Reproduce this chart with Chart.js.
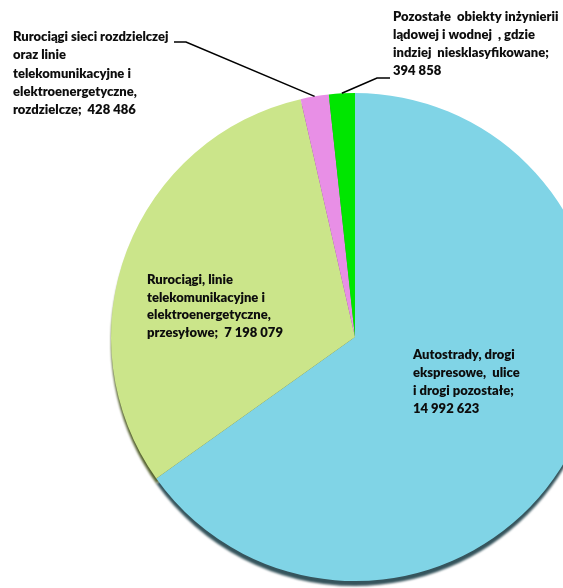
<!DOCTYPE html>
<html>
<head>
<meta charset="utf-8">
<script src="https://cdn.jsdelivr.net/npm/chart.js@4.4.1/dist/chart.umd.min.js"></script>
<style>
  html, body { margin: 0; padding: 0; background: #fff; overflow: hidden; }
  #wrap { width: 563px; height: 588px; overflow: hidden; position: relative; }
  canvas { position: absolute; left: 0; top: 0; }
</style>
</head>
<body>
<div id="wrap"><canvas id="pie" width="620" height="600"></canvas></div>
<script>
// data
const categories = [
    "Autostrady, drogi ekspresowe, ulice i drogi pozostałe",
    "Rurociągi, linie telekomunikacyjne i elektroenergetyczne, przesyłowe",
    "Rurociągi sieci rozdzielczej oraz linie telekomunikacyjne i elektroenergetyczne, rozdzielcze",
    "Pozostałe obiekty inżynierii lądowej i wodnej , gdzie indziej niesklasyfikowane"
];
const values = [14992623, 7198079, 428486, 394858];
const valueLabels = ["14 992 623", "7 198 079", "428 486", "394 858"];

// how each label is broken into lines (last line gets the value appended)
const labelLines = [
    ["Autostrady, drogi", "ekspresowe,  ulice", "i drogi pozostałe;", ""],
    ["Rurociągi, linie", "telekomunikacyjne i", "elektroenergetyczne,", "przesyłowe;  "],
    ["Rurociągi sieci rozdzielczej", "oraz linie", "telekomunikacyjne i", "elektroenergetyczne,", "rozdzielcze;  "],
    ["Pozostałe  obiekty inżynierii", "lądowej i wodnej  , gdzie", "indziej  niesklasyfikowane;", ""]
];

const colors = ["#80d4e6", "#cbe58a", "#e88fe6", "#00e600"];
const rimColors = ["#35545c", "#56632f", "#633a62", "#086008"];

// where the text blocks sit (first line centre) and leader elbows
const labelPos = [
    { x: 413, y: 355, lh: 18 },
    { x: 147, y: 280, lh: 17.5 },
    { x: 13, y: 37, lh: 18.2, leader: [[174, 42], [186, 42]] },
    { x: 393, y: 17, lh: 18, leader: [[390, 78], [377, 78]] }
];

const rimPlugin = {
    id: "rim",
    beforeDatasetsDraw(chart) {
        const ctx = chart.ctx;
        const meta = chart.getDatasetMeta(0);
        ctx.save();
        ctx.filter = "blur(1px)";
        meta.data.forEach(function(arc, i) {
            ctx.beginPath();
            ctx.moveTo(arc.x, arc.y + 5);
            ctx.arc(arc.x, arc.y + 5, arc.outerRadius, arc.startAngle, arc.endAngle);
            ctx.closePath();
            ctx.fillStyle = rimColors[i];
            ctx.fill();
        });
        ctx.restore();
    }
};

const labelPlugin = {
    id: "sliceLabels",
    afterDatasetsDraw(chart) {
        const ctx = chart.ctx;
        const meta = chart.getDatasetMeta(0);
        ctx.save();
        ctx.fillStyle = "#0d0d0d";
        ctx.strokeStyle = "#000";
        ctx.lineWidth = 1.6;
        ctx.font = "800 13px Lato";
        ctx.textBaseline = "middle";
        ctx.textAlign = "left";
        labelLines.forEach(function(lines, i) {
            const p = labelPos[i];
            lines.forEach(function(line, j) {
                let text = line;
                if (j === lines.length - 1) text = line + valueLabels[i];
                ctx.fillText(text, p.x, p.y + j * p.lh);
            });
            if (p.leader) {
                const arc = meta.data[i];
                const mid = (arc.startAngle + arc.endAngle) / 2;
                const ex = arc.x + Math.cos(mid) * arc.outerRadius;
                const ey = arc.y + Math.sin(mid) * arc.outerRadius;
                ctx.beginPath();
                ctx.moveTo(p.leader[0][0], p.leader[0][1]);
                ctx.lineTo(p.leader[1][0], p.leader[1][1]);
                ctx.lineTo(ex, ey);
                ctx.stroke();
            }
        });
        ctx.restore();
    }
};

new Chart(document.getElementById("pie").getContext("2d"), {
    type: "pie",
    data: {
        labels: categories,
        datasets: [{
            data: values,
            backgroundColor: colors,
            borderWidth: 0
        }]
    },
    options: {
        responsive: false,
        animation: false,
        layout: { padding: { left: 111, top: 93, right: 21, bottom: 19 } },
        plugins: {
            legend: { display: false },
            tooltip: { enabled: false }
        }
    },
    plugins: [rimPlugin, labelPlugin]
});
</script>
</body>
</html>
